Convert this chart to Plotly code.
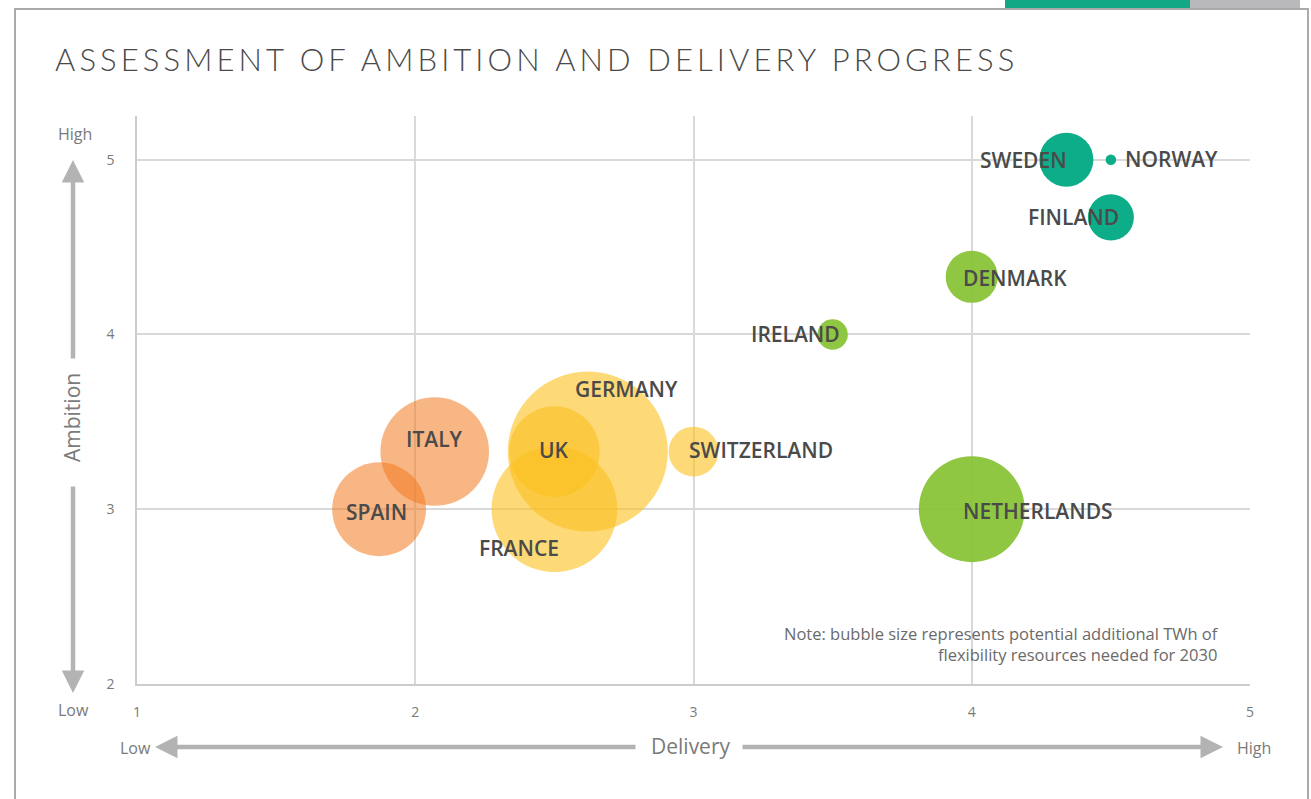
import plotly.graph_objects as go

# ---------------- data ----------------
countries = ["GERMANY", "FRANCE", "ITALY", "SPAIN", "UK", "NETHERLANDS",
             "SWITZERLAND", "SWEDEN", "DENMARK", "FINLAND", "IRELAND", "NORWAY"]
delivery = [2.62, 2.50, 2.07, 1.87, 2.50, 4.00, 3.00, 4.34, 4.00, 4.50, 3.50, 4.50]
ambition = [3.33, 3.00, 3.33, 3.00, 3.33, 3.00, 3.33, 5.00, 4.33, 4.67, 4.00, 5.00]
twh = [64.0, 39.5, 29.5, 22.0, 20.5, 28.0, 6.2, 7.3, 6.8, 5.3, 2.3, 0.28]
group = ["yellow", "yellow", "orange", "orange", "yellow", "green",
         "yellow", "teal", "green", "teal", "green", "teal"]
x_ticks = [1, 2, 3, 4, 5]
y_ticks = [2, 3, 4, 5]

# ---------------- styles ----------------
group_colors = {
    "yellow": "rgba(252,192,30,0.60)",
    "orange": "rgba(242,120,30,0.54)",
    "green": "rgba(134,194,52,0.93)",
    "teal": "rgba(4,170,132,0.97)",
}
# label placement: (xanchor, xshift, yshift) in px relative to bubble centre
label_pos = {
    "GERMANY": ("left", -15, 63),
    "FRANCE": ("center", -35, -39),
    "ITALY": ("center", 0, 13),
    "SPAIN": ("center", -3, -3),
    "UK": ("center", 0, 2),
    "NETHERLANDS": ("left", -11, -2),
    "SWITZERLAND": ("left", -7, 2),
    "SWEDEN": ("right", 3, 0),
    "DENMARK": ("left", -11, -1),
    "FINLAND": ("right", 10, 0),
    "IRELAND": ("right", 9, 0),
    "NORWAY": ("left", 12, 1),
}

W, H = 1311, 799
L, R, T, B = 137, 61, 116, 115
PW, PH = W - L - R, H - T - B


def px(xp):
    return (xp - L) / PW


def py(yp):
    return (H - B - yp) / PH


GRID = "#d9d9d9"
ARROW = "#b3b3b3"
TXT = "#4a4a4a"
SOFT = "#7a7a7a"

fig = go.Figure()
fig.add_trace(go.Scatter(
    x=delivery, y=ambition, mode="markers",
    marker=dict(size=twh, sizemode="area", sizeref=0.005, opacity=1,
                color=[group_colors[g] for g in group],
                line=dict(width=0)),
    hovertext=countries, hoverinfo="text", showlegend=False,
))

annotations = []
for c, xv, yv in zip(countries, delivery, ambition):
    anc, xs, ys = label_pos[c]
    annotations.append(dict(
        x=xv, y=yv, xref="x", yref="y", text=c, showarrow=False,
        xanchor=anc, yanchor="middle", xshift=xs, yshift=ys,
        font=dict(family="Open Sans", size=21, color=TXT, weight=600),
    ))

# title
annotations.append(dict(
    x=px(53), y=py(59), xref="paper", yref="paper", showarrow=False,
    xanchor="left", yanchor="middle",
    text='<span style="letter-spacing:4.1px">ASSESSMENT OF AMBITION AND DELIVERY PROGRESS</span>',
    font=dict(family="Lato", size=31, color="#4a4a4a", weight=300),
))
# note
annotations.append(dict(
    x=px(1221), y=py(644), xref="paper", yref="paper", showarrow=False,
    xanchor="right", yanchor="middle", align="right",
    text="Note: bubble size represents potential additional TWh of<br>flexibility resources needed for 2030",
    font=dict(family="Open Sans", size=16.5, color="#6a6a6a"),
))
# axis words
for txt, xx, yy, sz in [("High", 75, 134, 16), ("Low", 73, 710, 16),
                        ("Low", 135, 748, 16), ("High", 1254, 748, 16),
                        ("Delivery", 690, 746, 21)]:
    annotations.append(dict(
        x=px(xx), y=py(yy), xref="paper", yref="paper", showarrow=False,
        xanchor="center", yanchor="middle", text=txt,
        font=dict(family="Open Sans", size=sz, color=SOFT),
    ))
annotations.append(dict(
    x=px(72), y=py(418), xref="paper", yref="paper", showarrow=False,
    xanchor="center", yanchor="middle", text="Ambition", textangle=-90,
    font=dict(family="Open Sans", size=21, color=SOFT),
))
# arrows (tip, tail) in pixels
for (tx, ty), (sx, sy) in [((73, 160), (73, 360)), ((73, 693), (73, 485)),
                           ((155, 747), (637, 747)), ((1223, 747), (741, 747))]:
    annotations.append(dict(
        x=px(tx), y=py(ty), xref="paper", yref="paper",
        ax=sx - tx, ay=sy - ty, axref="pixel", ayref="pixel",
        showarrow=True, arrowhead=2, arrowsize=1.0, arrowwidth=4.5,
        arrowcolor=ARROW, text="", standoff=0,
    ))

shapes = [
    # frame around the panel
    dict(type="rect", xref="paper", yref="paper",
         x0=px(15), x1=px(1308), y0=py(815), y1=py(9),
         line=dict(color="#aaaaaa", width=2), fillcolor="rgba(0,0,0,0)", layer="below"),
    # decorative strip in the top right corner
    dict(type="rect", xref="paper", yref="paper",
         x0=px(1005), x1=px(1190), y0=py(8), y1=py(-5),
         line=dict(width=0), fillcolor="#11a883", layer="below"),
    dict(type="rect", xref="paper", yref="paper",
         x0=px(1190), x1=px(1300), y0=py(8), y1=py(-5),
         line=dict(width=0), fillcolor="#b9b9bb", layer="below"),
]

fig.update_layout(
    width=W, height=H,
    margin=dict(l=L, r=R, t=T, b=B, pad=0),
    paper_bgcolor="white", plot_bgcolor="white",
    annotations=annotations, shapes=shapes,
    xaxis=dict(range=[1, 5], tickvals=x_ticks, ticktext=[str(v) for v in x_ticks],
               showgrid=True, gridcolor=GRID, gridwidth=1.5, zeroline=False,
               showline=True, linecolor="#cccccc", linewidth=1.5, mirror=False,
               ticks="", ticklabelstandoff=14,
               tickfont=dict(family="Open Sans", size=14, color=SOFT), fixedrange=True),
    yaxis=dict(range=[2, 5.25], tickvals=y_ticks, ticktext=[str(v) for v in y_ticks],
               showgrid=True, gridcolor=GRID, gridwidth=1.5, zeroline=False,
               showline=True, linecolor="#cccccc", linewidth=1.5,
               ticks="", ticklabelstandoff=18,
               tickfont=dict(family="Open Sans", size=14, color=SOFT), fixedrange=True),
    hovermode="closest",
)

fig.write_html("out.html")
